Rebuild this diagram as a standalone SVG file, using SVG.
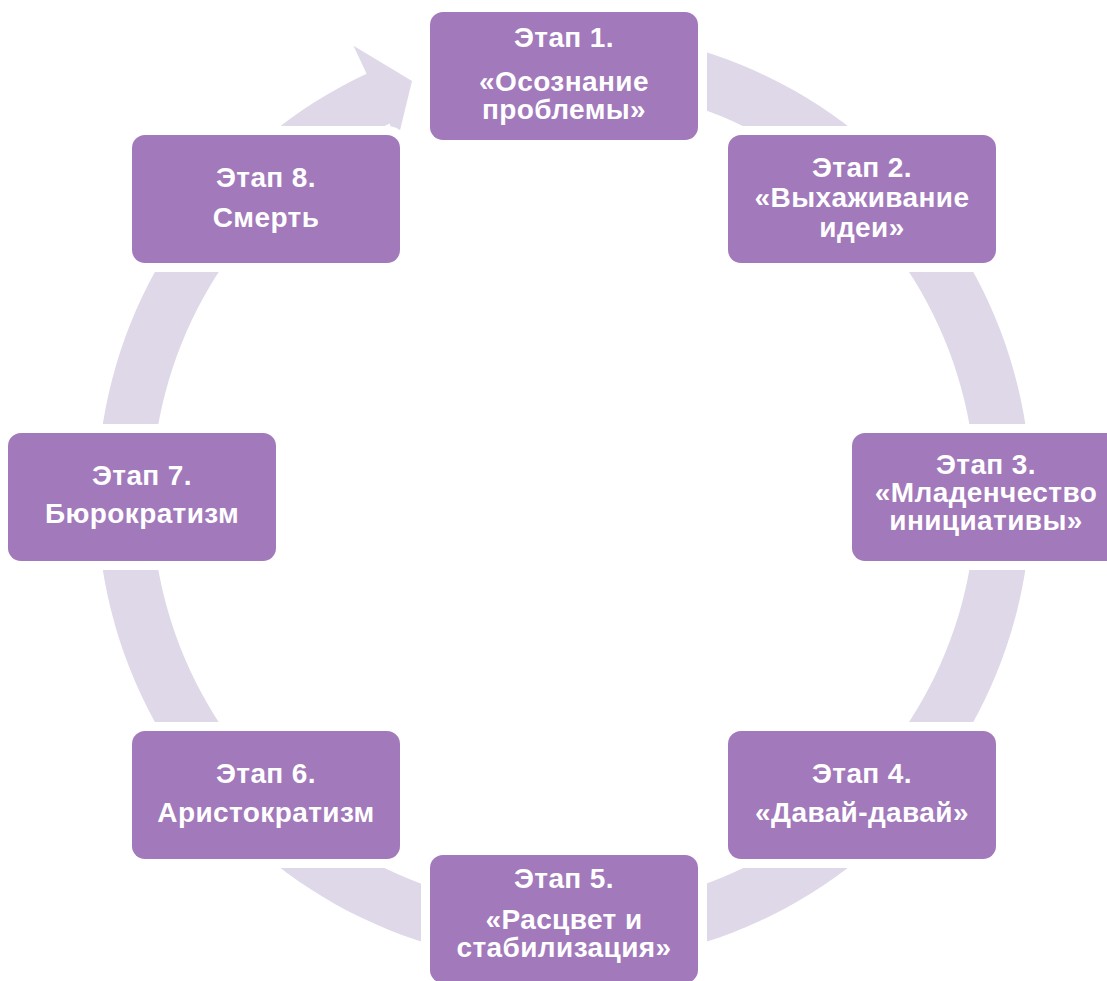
<svg xmlns="http://www.w3.org/2000/svg" width="1107" height="981" viewBox="0 0 1107 981">
<style>
.ring{fill:#DFD8E8;stroke:none}
.box{fill:#A279BA;stroke:#FFFFFF;stroke-width:18;paint-order:stroke}
.t{font-family:"Liberation Sans",Arial,sans-serif;font-weight:bold;font-size:28px;letter-spacing:0.4px;fill:#FFFFFF;text-anchor:middle}
</style>
<rect x="0" y="0" width="1107" height="981" fill="#FFFFFF"/>
<g id="connectors">
<path class="ring" d="M 482.9 37.1 A 467 467 0 1 1 366.6 73.8 L 353.5 45.7 L 412 81 L 395 151 L 389.9 123.6 A 412 412 0 1 0 492.5 91.3 Z"/>
</g>
<g id="node1">
<rect class="box" x="430" y="12" width="268" height="128" rx="13"/>
<text class="t" x="564" y="47">Этап 1.</text>
<text class="t" x="564" y="91">«Осознание</text>
<text class="t" x="564" y="119">проблемы»</text>
</g>
<g id="node2">
<rect class="box" x="728" y="135" width="268" height="128" rx="13"/>
<text class="t" x="862" y="177">Этап 2.</text>
<text class="t" x="862" y="207">«Выхаживание</text>
<text class="t" x="862" y="237">идеи»</text>
</g>
<g id="node3">
<rect class="box" x="852" y="433" width="268" height="128" rx="13"/>
<text class="t" x="986" y="474">Этап 3.</text>
<text class="t" x="986" y="502">«Младенчество</text>
<text class="t" x="986" y="530">инициативы»</text>
</g>
<g id="node4">
<rect class="box" x="728" y="731" width="268" height="128" rx="13"/>
<text class="t" x="862" y="783">Этап 4.</text>
<text class="t" x="862" y="822">«Давай-давай»</text>
</g>
<g id="node5">
<rect class="box" x="430" y="855" width="268" height="128" rx="13"/>
<text class="t" x="564" y="888">Этап 5.</text>
<text class="t" x="564" y="929">«Расцвет и</text>
<text class="t" x="564" y="957">стабилизация»</text>
</g>
<g id="node6">
<rect class="box" x="132" y="731" width="268" height="128" rx="13"/>
<text class="t" x="266" y="783">Этап 6.</text>
<text class="t" x="266" y="822">Аристократизм</text>
</g>
<g id="node7">
<rect class="box" x="8" y="433" width="268" height="128" rx="13"/>
<text class="t" x="142" y="485">Этап 7.</text>
<text class="t" x="142" y="523">Бюрократизм</text>
</g>
<g id="node8">
<rect class="box" x="132" y="135" width="268" height="128" rx="13"/>
<text class="t" x="266" y="187">Этап 8.</text>
<text class="t" x="266" y="227">Смерть</text>
</g>
</svg>
